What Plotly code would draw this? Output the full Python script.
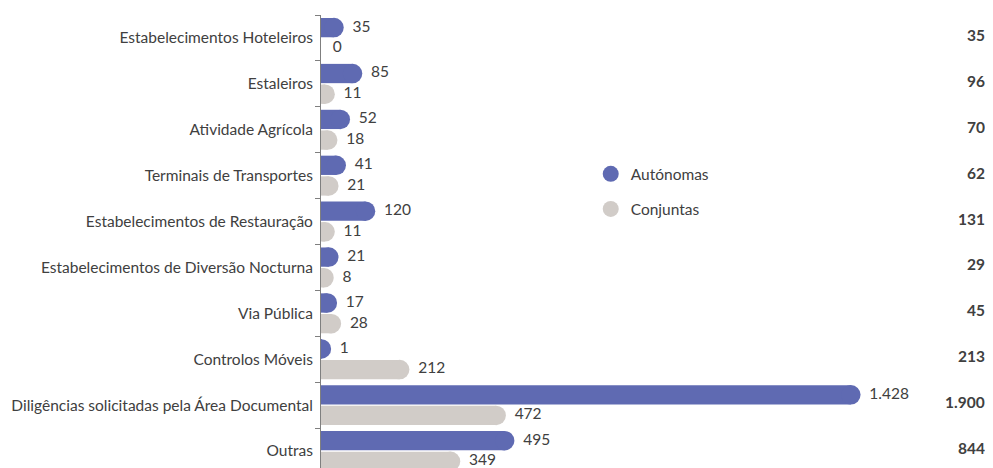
import plotly.graph_objects as go

categories = [
    "Estabelecimentos Hoteleiros",
    "Estaleiros",
    "Atividade Agrícola",
    "Terminais de Transportes",
    "Estabelecimentos de Restauração",
    "Estabelecimentos de Diversão Nocturna",
    "Via Pública",
    "Controlos Móveis",
    "Diligências solicitadas pela Área Documental",
    "Outras",
]
autonomas = [35, 85, 52, 41, 120, 21, 17, 1, 1428, 495]
conjuntas = [0, 11, 18, 21, 11, 8, 28, 212, 472, 349]
totals = [a + c for a, c in zip(autonomas, conjuntas)]

C_AUT = "#5F6AB2"
C_CONJ = "#D1CCC8"
TXT = "#404040"
FONT = "Lato"
FS = 15.5
BAR_W = 0.42
OFF = 0.225
CAP = 19.5
Y_RANGE = [9.37, -0.5]

pos = list(range(len(categories)))
y_aut = [p - OFF for p in pos]
y_conj = [p + OFF for p in pos]


def fmt(v):
    return f"{v:,}".replace(",", ".")


fig = go.Figure()
for vals, ys, col in [(autonomas, y_aut, C_AUT), (conjuntas, y_conj, C_CONJ)]:
    fig.add_trace(go.Bar(x=vals, y=ys, orientation="h", width=BAR_W,
                         marker=dict(color=col, line=dict(width=0), opacity=1),
                         showlegend=False, hoverinfo="skip"))
    # rounded cap at the end of each bar
    fig.add_trace(go.Scatter(x=vals, y=ys, mode="markers",
                             marker=dict(color=col, size=[CAP if v > 0 else 0 for v in vals],
                                         opacity=1, line=dict(width=0)),
                             cliponaxis=True, showlegend=False, hoverinfo="skip"))
    # value labels (invisible spacer markers set the gap after the cap)
    fig.add_trace(go.Scatter(x=vals, y=ys, mode="markers+text",
                             marker=dict(color="rgba(0,0,0,0)", size=[28 if v > 0 else 17 for v in vals],
                                         line=dict(width=0)),
                             text=[fmt(v) for v in vals], textposition="middle right",
                             textfont=dict(family=FONT, size=FS, color=TXT),
                             cliponaxis=False, showlegend=False, hoverinfo="skip"))

for name, col in [("Autónomas", C_AUT), ("Conjuntas", C_CONJ)]:
    fig.add_trace(go.Scatter(x=[None], y=[None], mode="markers", name=name, legendgroup=name,
                             marker=dict(color=col, size=20, symbol="circle", opacity=1)))

span = Y_RANGE[0] - Y_RANGE[1]
for p, t in zip(pos, totals):
    fig.add_annotation(x=1, xref="paper", xanchor="right",
                       y=(Y_RANGE[0] - p) / span, yref="paper", yanchor="middle",
                       text=f"<b>{fmt(t)}</b>", showarrow=False, yshift=3,
                       font=dict(family=FONT, size=FS, color=TXT))

fig.update_layout(
    width=985, height=460,
    margin=dict(l=313, r=6, t=7, b=0),
    barmode="overlay",
    plot_bgcolor="white", paper_bgcolor="white",
    font=dict(family=FONT, size=FS, color=TXT),
    legend=dict(x=0.405, y=0.686, xanchor="left", yanchor="top",
                font=dict(family=FONT, size=FS, color=TXT),
                traceorder="grouped", tracegroupgap=12, bgcolor="rgba(0,0,0,0)"),
    showlegend=True,
)
fig.update_xaxes(range=[0, 1795], showgrid=False, zeroline=False, showticklabels=False,
                 showline=False, ticks="")
fig.update_yaxes(range=Y_RANGE, tickvals=pos, ticktext=categories, ticks="",
                 showgrid=False, zeroline=False, showline=True, linecolor="#7F7F7F", linewidth=1,
                 ticklabelstandoff=4,
                 minor=dict(tickvals=[p - 0.5 for p in pos] + [len(pos) - 0.5], ticks="outside",
                            ticklen=5, tickcolor="#7F7F7F", showgrid=False))

fig.write_html("out.html")
